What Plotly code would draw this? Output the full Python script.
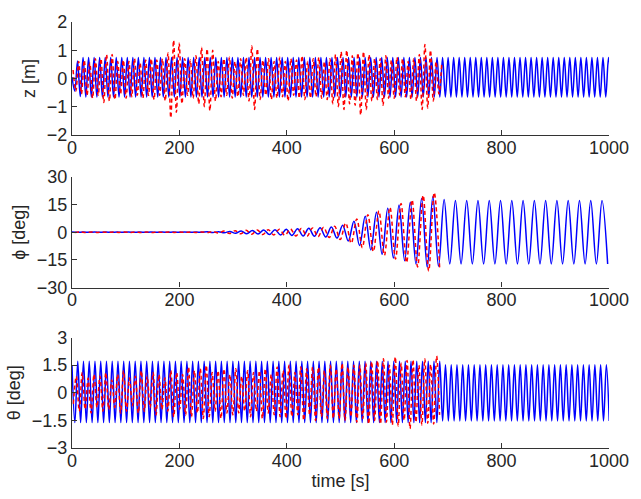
import numpy as np
import plotly.graph_objects as go

# ---------------- data (turning points) ----------------
X_TICKS = [0, 200, 400, 600, 800, 1000]
Z_TICKS = [-2, -1, 0, 1, 2]
PHI_TICKS = [-30, -15, 0, 15, 30]
THETA_TICKS = [-3, -1.5, 0, 1.5, 3]

# z [m] -- blue solid (turning points every Z_BLUE_DT seconds)
Z_BLUE_T0, Z_BLUE_DT = 0.0, 5.15
Z_BLUE = [0.05, -0.45, 0.62, -0.64, 0.74, -0.66, 0.74, -0.66, 0.74, -0.66,
          0.74, -0.66, 0.74, -0.66, 0.74, -0.66, 0.74, -0.66, 0.74, -0.66,
          0.74, -0.66, 0.74, -0.66, 0.74, -0.66, 0.74, -0.66, 0.74, -0.66,
          0.74, -0.66, 0.74, -0.66, 0.74, -0.66, 0.74, -0.66, 0.74, -0.66,
          0.74, -0.66, 0.74, -0.66, 0.74, -0.66, 0.74, -0.66, 0.74, -0.66,
          0.74, -0.66, 0.74, -0.66, 0.74, -0.66, 0.74, -0.66, 0.74, -0.66,
          0.74, -0.66, 0.74, -0.66, 0.74, -0.66, 0.74, -0.66, 0.74, -0.66,
          0.74, -0.66, 0.74, -0.66, 0.74, -0.66, 0.74, -0.66, 0.74, -0.66,
          0.74, -0.66, 0.74, -0.66, 0.74, -0.66, 0.74, -0.66, 0.74, -0.66,
          0.74, -0.66, 0.74, -0.66, 0.74, -0.66, 0.74, -0.66, 0.74, -0.66,
          0.74, -0.66, 0.74, -0.66, 0.74, -0.66, 0.74, -0.66, 0.74, -0.66,
          0.74, -0.66, 0.74, -0.66, 0.74, -0.66, 0.74, -0.66, 0.74, -0.66,
          0.74, -0.66, 0.74, -0.66, 0.74, -0.66, 0.74, -0.66, 0.74, -0.66,
          0.74, -0.66, 0.74, -0.66, 0.74, -0.66, 0.74, -0.66, 0.74, -0.66,
          0.74, -0.66, 0.74, -0.66, 0.74, -0.66, 0.74, -0.66, 0.74, -0.66,
          0.74, -0.66, 0.74, -0.66, 0.74, -0.66, 0.74, -0.66, 0.74, -0.66,
          0.74, -0.66, 0.74, -0.66, 0.74, -0.66, 0.74, -0.66, 0.74, -0.66,
          0.74, -0.66, 0.74, -0.66, 0.74, -0.66, 0.74, -0.66, 0.74, -0.66,
          0.74, -0.66, 0.74, -0.66, 0.74, -0.66, 0.74, -0.66, 0.74, -0.66,
          0.74, -0.66, 0.74, -0.66, 0.74, -0.66]

# z [m] -- red dashed
Z_RED_T0, Z_RED_DT = 2.0, 5.2
Z_RED = [0.3, -0.45, 0.6, -0.55, 0.65, -0.6, 0.55, -0.7, 0.7, -0.6,
         0.7, -0.85, 0.85, -0.8, 0.85, -0.75, 0.6, -0.55, 0.65, -0.7,
         0.6, -0.65, 0.7, -0.6, 0.55, -0.7, 0.65, -0.6, 0.7, -0.75,
         0.65, -0.6, 0.7, -0.8, 0.9, -1.4, 1.35, -1.2, 1.25, -0.9,
         0.7, -0.6, 0.65, -0.7, 0.8, -0.9, 1.1, -1.0, 1.05, -1.15,
         1.0, -0.8, 0.6, -0.65, 0.7, -0.6, 0.75, -0.7, 0.6, -0.65,
         0.7, -0.6, 0.75, -0.8, 1.15, -1.1, 1.05, -0.75, 0.65, -0.6,
         0.7, -0.75, 0.6, -0.7, 0.75, -0.65, 0.6, -0.8, 0.7, -0.6,
         0.65, -0.7, 0.8, -0.75, 0.6, -0.7, 0.7, -0.65, 0.75, -0.7,
         0.6, -0.75, 0.7, -0.9, 0.85, -1.0, 0.95, -1.1, 1.0, -0.9,
         0.8, -0.95, 0.9, -1.3, 0.95, -1.1, 0.85, -0.8, 0.7, -0.75,
         0.7, -0.95, 0.8, -0.7, 0.65, -0.7, 0.75, -0.6, 0.7, -0.65,
         0.6, -0.75, 0.7, -0.8, 0.85, -1.1, 1.2, -1.05, 1.0, -0.8,
         0.6, -0.55, 0.5]

# phi [deg] -- blue solid
PHI_BLUE_T0, PHI_BLUE_DT = 0.0, 10.5
PHI_BLUE = [0.05, -0.05, 0.05, -0.05, 0.05, -0.05, 0.05, -0.05, 0.05, -0.05,
            0.05, -0.05, 0.05, -0.05, 0.05, -0.05, 0.05, -0.05, 0.05, -0.05,
            0.05, -0.05, 0.05, -0.05,
            0.2, -0.2, 0.3, -0.3, 0.4,
            -0.6, 0.7, -0.8, 0.9, -1.0,
            1.2, -1.3, 1.4, -1.5, 1.6,
            -1.8, 1.9, -2.0, 2.1, -2.2,
            2.4, -2.6, 2.8,
            -3.2, 3.8, -4.8, 6.0, -7.2, 8.6, -9.6, 10.8, -12.0, 13.0,
            -14.0, 14.7, -15.5, 16.3, -17.2, 18.2, -19.0, 19.4, -18.5, 17.7,
            -17.2, 17.2, -17.2, 17.2, -17.2, 17.2, -17.2, 17.2, -17.2, 17.2,
            -17.2, 17.2, -17.2, 17.2, -17.2, 17.2, -17.2, 17.2, -17.2, 17.2,
            -17.2, 17.2, -17.2, 17.2, -17.2, 17.2, -17.2, 17.2, -17.2]

# phi [deg] -- red dashed
PHI_RED_T0, PHI_RED_DT = 5.0, 10.3
PHI_RED = [-0.1, 0.1, -0.1, 0.1, -0.1, 0.1, -0.1, 0.1, -0.1, 0.1,
           -0.1, 0.1, -0.1, 0.1, -0.1, 0.1, -0.1, 0.1, -0.1, 0.1,
           -0.1, 0.1, -0.1, 0.1, -0.2,
           0.4, -0.5, 0.6, -0.7, 0.8,
           -0.9, 1.0, -1.1, 1.2, -1.3,
           1.4, -1.5, 1.6, -1.7, 1.8,
           -2.0, 2.1, -2.2, 2.3,
           -2.5, 2.7, -2.9,
           3.2, -4.0, 5.0, -6.0, 7.2, -8.3, 9.5, -10.5, 11.5, -12.5,
           13.5, -14.5, 15.5, -16.5, 17.5, -18.8, 20.0, -21.0, 21.5, -20.5]

# theta [deg] -- blue solid
THETA_BLUE_T0, THETA_BLUE_DT = 0.0, 5.35
THETA_BLUE = [1.5, -1.62, 1.72, -1.62, 1.72, -1.62, 1.72, -1.62, 1.72, -1.62,
              1.72, -1.62, 1.72, -1.62, 1.72, -1.62, 1.72, -1.62, 1.72, -1.62,
              1.72, -1.62, 1.72, -1.62, 1.72, -1.62, 1.72, -1.62, 1.72, -1.62,
              1.72, -1.62, 1.72, -1.62, 1.72, -1.62, 1.72, -1.62, 1.72, -1.62,
              1.72, -1.62, 1.72, -1.62, 1.72, -1.62, 1.72, -1.62, 1.72, -1.62,
              1.72, -1.62, 1.72, -1.62, 1.72, -1.62, 1.72, -1.62, 1.72, -1.62,
              1.72, -1.62, 1.72, -1.62, 1.72, -1.62, 1.72, -1.62, 1.72, -1.62,
              1.72, -1.62, 1.72, -1.62, 1.72, -1.62, 1.72, -1.62, 1.72, -1.62,
              1.72, -1.62, 1.72, -1.62, 1.72, -1.62, 1.72, -1.62, 1.72, -1.62,
              1.72, -1.62, 1.72, -1.62, 1.72, -1.62, 1.72, -1.62, 1.72, -1.62,
              1.72, -1.62, 1.72, -1.62, 1.72, -1.62, 1.72, -1.62, 1.72, -1.62,
              1.72, -1.62, 1.72, -1.62, 1.72, -1.62, 1.72, -1.62, 1.72, -1.62,
              1.72, -1.62, 1.72, -1.62, 1.72, -1.62, 1.72, -1.62, 1.72, -1.53,
              1.52, -1.53, 1.52, -1.53, 1.52, -1.53, 1.52, -1.53, 1.52, -1.53,
              1.52, -1.53, 1.52, -1.53, 1.52, -1.53, 1.52, -1.53, 1.52, -1.53,
              1.52, -1.53, 1.52, -1.53, 1.52, -1.53, 1.52, -1.53, 1.52, -1.53,
              1.52, -1.53, 1.52, -1.53, 1.52, -1.53, 1.52, -1.53, 1.52, -1.53,
              1.52, -1.53, 1.52, -1.53, 1.52, -1.53, 1.52, -1.53, 1.52, -1.53,
              1.52, -1.53, 1.52, -1.53, 1.52, -1.53, 1.52, -1.53]

# theta [deg] -- red dashed
THETA_RED_T0, THETA_RED_DT = 2.5, 5.5
THETA_RED = [-0.6, 0.9, -1.0, 1.1, -0.9, 0.8, -1.1, 1.0, -0.8, 0.9,
             -1.0, 1.1, -0.9, 0.7, -0.8, 1.0, -1.1, 1.2, -1.0, 0.8,
             -0.7, 0.9, -1.1, 1.2, -1.0, 0.9, -0.8, 1.1, -1.2, 1.0,
             -0.9, 0.8, -1.0, 1.2, -1.3, 1.1, -0.9, 1.0, -1.2, 1.4,
             -1.3, 1.2, -1.1, 1.3, -1.4, 1.5, -1.3, 1.1, -1.0, 1.2,
             -1.4, 1.3, -1.1, 1.0, -1.2, 1.3, -1.1, 0.9, -1.0, 1.2,
             -1.3, 1.1, -1.0, 1.2, -1.4, 1.3, -1.1, 1.0, -1.2, 1.4,
             -1.3, 1.2, -1.4, 1.5, -1.3, 1.1, -1.2, 1.4, -1.5, 1.3,
             -1.2, 1.4, -1.5, 1.4, -1.3, 1.2, -1.4, 1.5, -1.4, 1.3,
             -1.4, 1.6, -1.5, 1.4, -1.3, 1.5, -1.6, 1.5, -1.4, 1.6,
             -1.7, 1.7, -1.5, 1.75, -1.7, 1.85, -1.6, 1.5, -1.75, 1.95,
             -1.8, 1.6, -1.5, 1.75, -1.95, 1.8, -1.6, 1.5, -1.75, 1.85,
             -1.65, 1.55, -1.7, 2.0, -1.2]

# ---------------- figure ----------------
BLUE = "#0000ff"
RED = "#ff0000"
TXT = "#262626"
FONT = "Liberation Sans, Arial, Helvetica, sans-serif"


def times(t0, dt, vals):
    return t0 + dt * np.arange(len(vals))


panels = [
    (Z_BLUE_T0, Z_BLUE_DT, Z_BLUE, Z_RED_T0, Z_RED_DT, Z_RED),
    (PHI_BLUE_T0, PHI_BLUE_DT, PHI_BLUE, PHI_RED_T0, PHI_RED_DT, PHI_RED),
    (THETA_BLUE_T0, THETA_BLUE_DT, THETA_BLUE, THETA_RED_T0, THETA_RED_DT, THETA_RED),
]

fig = go.Figure()
for k, (bt0, bdt, bv, rt0, rdt, rv) in enumerate(panels):
    suffix = "" if k == 0 else str(k + 1)
    fig.add_trace(go.Scatter(x=times(bt0, bdt, bv), y=bv, mode="lines",
                             line=dict(color=BLUE, width=1.5, shape="spline", smoothing=1),
                             xaxis="x" + suffix, yaxis="y" + suffix, hoverinfo="skip"))
    fig.add_trace(go.Scatter(x=times(rt0, rdt, rv), y=rv, mode="lines",
                             line=dict(color=RED, width=1.5, dash="4px,3px", shape="spline", smoothing=1),
                             xaxis="x" + suffix, yaxis="y" + suffix, hoverinfo="skip"))

axis_common = dict(showline=True, linecolor="#333333", linewidth=1.2, ticks="inside",
                   ticklen=5, tickcolor="#333333", tickwidth=1.2, showgrid=False, zeroline=False,
                   mirror=False, tickfont=dict(family=FONT, size=18, color=TXT))

domains = [[0.7351, 1.0], [0.3766, 0.6365], [0.0, 0.2592]]
ranges = [[-2, 2], [-30, 30], [-3, 3]]
yticks = [Z_TICKS, PHI_TICKS, THETA_TICKS]
ytitles = ["z [m]", "ϕ [deg]", "θ [deg]"]

layout = dict(width=641, height=499, margin=dict(l=72, r=23, t=12, b=51),
              plot_bgcolor="white", paper_bgcolor="white", showlegend=False,
              font=dict(family=FONT, size=18, color=TXT))
for k in range(3):
    xs = "xaxis" if k == 0 else "xaxis%d" % (k + 1)
    ys = "yaxis" if k == 0 else "yaxis%d" % (k + 1)
    anchor_y = "y" if k == 0 else "y%d" % (k + 1)
    anchor_x = "x" if k == 0 else "x%d" % (k + 1)
    xa = dict(axis_common, range=[0, 1000], tickvals=X_TICKS, domain=[0, 1], anchor=anchor_y,
              ticklabelstandoff=-4)
    if k == 2:
        xa["title"] = dict(text="time [s]", font=dict(family=FONT, size=18, color=TXT), standoff=4)
    ya = dict(axis_common, range=ranges[k], tickvals=yticks[k], domain=domains[k], anchor=anchor_x,
              title=dict(text=ytitles[k], font=dict(family=FONT, size=18, color=TXT), standoff=6))
    layout[xs] = xa
    layout[ys] = ya

fig.update_layout(**layout)
fig.write_html("out.html")
